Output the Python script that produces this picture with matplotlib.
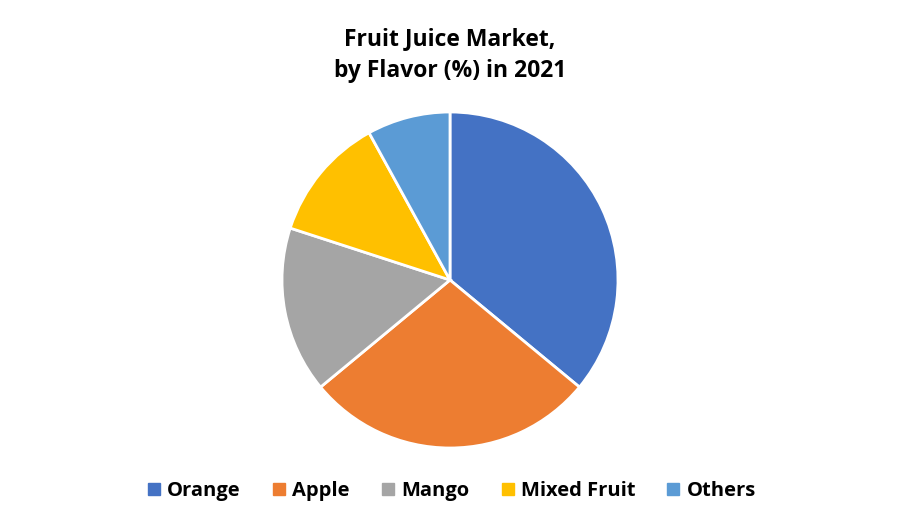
import matplotlib
matplotlib.use("Agg")
import matplotlib.pyplot as plt
from matplotlib.lines import Line2D

categories = ["Orange", "Apple", "Mango", "Mixed Fruit", "Others"]
values = [36, 28, 16, 12, 8]
colors = ["#4472C4", "#ED7D31", "#A5A5A5", "#FFC000", "#5B9BD5"]

plt.rcParams['font.family'] = ['Open Sans', 'DejaVu Sans']

fig = plt.figure(figsize=(9, 5.25), dpi=100)
W, H = 900, 525
cx, cy, r = 450, 280, 168
ax = fig.add_axes([(cx - r) / W, 1 - (cy + r) / H, 2 * r / W, 2 * r / H])
ax.pie(values, colors=colors, startangle=90, counterclock=False,
       wedgeprops=dict(edgecolor="white", linewidth=2), radius=1)
ax.set_xlim(-1.0, 1.0)
ax.set_ylim(-1.0, 1.0)
ax.set_aspect("equal")
ax.axis("off")

fig.text(0.5, 1 - 55 / H, "Fruit Juice Market,\nby Flavor (%) in 2021", ha="center", va="center",
         fontsize=16.5, fontweight="bold", color="#000000", linespacing=1.4)

handles = [Line2D([0], [0], marker="s", linestyle="none", markersize=8,
                  markerfacecolor=c, markeredgecolor=c) for c in colors]
fig.legend(handles, categories, loc="center", bbox_to_anchor=(0.5, 1 - 491 / H), ncol=5,
           frameon=False, prop=dict(size=14.5, weight="bold"), handletextpad=0.15,
           columnspacing=1.4, handlelength=1.0)

fig.savefig("out.png", dpi=100, facecolor="white")
